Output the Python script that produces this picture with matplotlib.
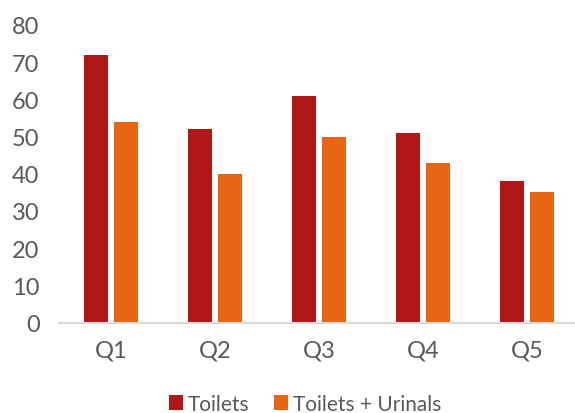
import matplotlib
matplotlib.use("Agg")
import matplotlib.pyplot as plt
import numpy as np

categories = ["Q1", "Q2", "Q3", "Q4", "Q5"]
toilets = [72, 52, 61, 51, 38]
toilets_urinals = [54, 40, 50, 43, 35]
series_names = ["Toilets", "Toilets + Urinals"]
colors = ["#B01716", "#E86514"]
yticks = [0, 10, 20, 30, 40, 50, 60, 70, 80]

plt.rcParams['font.family'] = ['Lato', 'DejaVu Sans']

fig = plt.figure(figsize=(5.75, 4.14), dpi=100)
ax = fig.add_axes([59/575, 1 - 323.5/414, 520/575, (323.5 - 26)/414])

x = np.arange(len(categories))
w = 0.226
off = 0.142
ax.bar(x - off, toilets, width=w, color=colors[0], label=series_names[0], zorder=2)
ax.bar(x + off, toilets_urinals, width=w, color=colors[1], label=series_names[1], zorder=2)

ax.set_xlim(-0.5, len(categories) - 0.5)
ax.set_ylim(0, 80)
ax.set_yticks(yticks)
ax.set_xticks(x)
ax.set_xticklabels(categories)

for s in ["top", "right", "left"]:
    ax.spines[s].set_visible(False)
ax.spines["bottom"].set_color("#D9D9D9")
ax.spines["bottom"].set_linewidth(1.5)
ax.spines["bottom"].set_zorder(3)

ax.tick_params(axis="both", length=0, labelsize=17, colors="#595959")
ax.tick_params(axis="y", pad=14)
ax.tick_params(axis="x", pad=12)

leg = fig.legend(loc="center", bbox_to_anchor=(0.53, 1 - 405/414), ncol=2, frameon=False,
                 fontsize=15, handlelength=0.7, handleheight=0.7, handletextpad=0.2,
                 columnspacing=1.2, labelcolor="#595959")

fig.savefig("out.png", dpi=100)
